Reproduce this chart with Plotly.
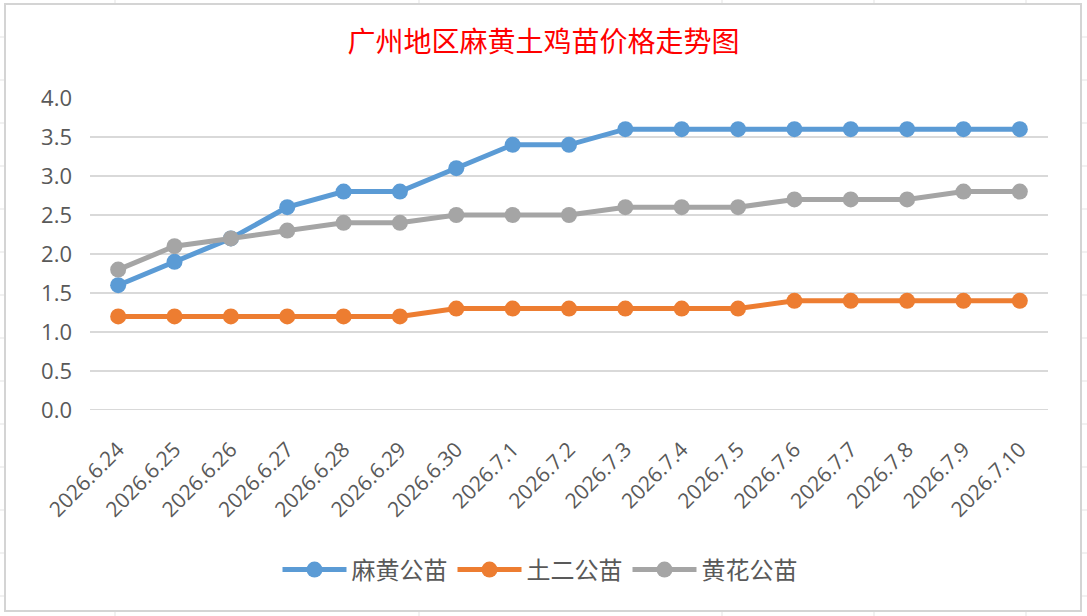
import plotly.graph_objects as go

dates = ["2026.6.24", "2026.6.25", "2026.6.26", "2026.6.27", "2026.6.28", "2026.6.29",
         "2026.6.30", "2026.7.1", "2026.7.2", "2026.7.3", "2026.7.4", "2026.7.5",
         "2026.7.6", "2026.7.7", "2026.7.8", "2026.7.9", "2026.7.10"]
mahuang = [1.6, 1.9, 2.2, 2.6, 2.8, 2.8, 3.1, 3.4, 3.4, 3.6, 3.6, 3.6, 3.6, 3.6, 3.6, 3.6, 3.6]
tuer = [1.2, 1.2, 1.2, 1.2, 1.2, 1.2, 1.3, 1.3, 1.3, 1.3, 1.3, 1.3, 1.4, 1.4, 1.4, 1.4, 1.4]
huanghua = [1.8, 2.1, 2.2, 2.3, 2.4, 2.4, 2.5, 2.5, 2.5, 2.6, 2.6, 2.6, 2.7, 2.7, 2.7, 2.8, 2.8]
series_names = ["麻黄公苗", "土二公苗", "黄花公苗"]
colors = ["#5B9BD5", "#ED7D31", "#A5A5A5"]
yticks = [0, 0.5, 1.0, 1.5, 2.0, 2.5, 3.0, 3.5, 4.0]

W, H = 1087, 616
L, R, T, B = 90, 1048, 98, 410


def px(x):
    return (x - L) / (R - L)


def py(y):
    return (B - y) / (B - T)


fig = go.Figure()
for name, vals, c in zip(series_names, [mahuang, tuer, huanghua], colors):
    fig.add_trace(go.Scatter(
        x=dates, y=vals, name=name, mode="lines+markers",
        line=dict(color=c, width=5),
        marker=dict(color=c, size=16),
    ))

shapes = []
grid_c = "#E3E3E3"
# spreadsheet cell lines outside the chart
for yy in range(37, 616, 43):
    shapes.append(dict(type="line", xref="paper", yref="paper", x0=px(0), x1=px(W),
                       y0=py(yy), y1=py(yy), line=dict(color=grid_c, width=1), layer="below"))
for xx in [115, 419, 722, 874, 1026]:
    shapes.append(dict(type="line", xref="paper", yref="paper", x0=px(xx), x1=px(xx),
                       y0=py(0), y1=py(H), line=dict(color=grid_c, width=1), layer="below"))
# chart area (white with border)
shapes.append(dict(type="rect", xref="paper", yref="paper", x0=px(5), x1=px(1081),
                   y0=py(611), y1=py(4), fillcolor="white",
                   line=dict(color="#D4D4D4", width=2), layer="below"))

fig.update_layout(
    width=W, height=H,
    margin=dict(l=L, r=W - R, t=T, b=H - B),
    paper_bgcolor="white", plot_bgcolor="rgba(0,0,0,0)",
    shapes=shapes,
    title=dict(text="广州地区麻黄土鸡苗价格走势图", x=0.5, xanchor="center",
               y=1 - 42 / H, yanchor="middle",
               font=dict(family="Noto Sans CJK SC", size=28, color="#FF0000")),
    xaxis=dict(type="category", range=[-0.5, len(dates) - 0.5], tickangle=-45,
               showgrid=False, showline=False,
               ticks="", ticklabelstandoff=22,
               tickfont=dict(family="Open Sans", size=21, color="#595959"),
               zeroline=False),
    yaxis=dict(range=[0, 4], tickvals=yticks, tickformat=".1f", showgrid=True,
               gridcolor="#D9D9D9", gridwidth=1.5, zeroline=False, showline=False,
               ticks="", ticklabelstandoff=17,
               tickfont=dict(family="Open Sans", size=22, color="#595959")),
    legend=dict(orientation="h", x=px(540), xanchor="center", y=py(570), yanchor="middle",
                font=dict(family="Noto Sans CJK SC", size=24, color="#595959"),
                itemwidth=64, bgcolor="rgba(0,0,0,0)"),
    showlegend=True,
)
fig.add_shape(type="line", xref="paper", yref="y", x0=0, x1=1, y0=0, y1=0,
              line=dict(color="#D9D9D9", width=2), layer="below")

fig.write_html("out.html", post_script="document.body.style.margin='0';",
               config={"displayModeBar": False})
